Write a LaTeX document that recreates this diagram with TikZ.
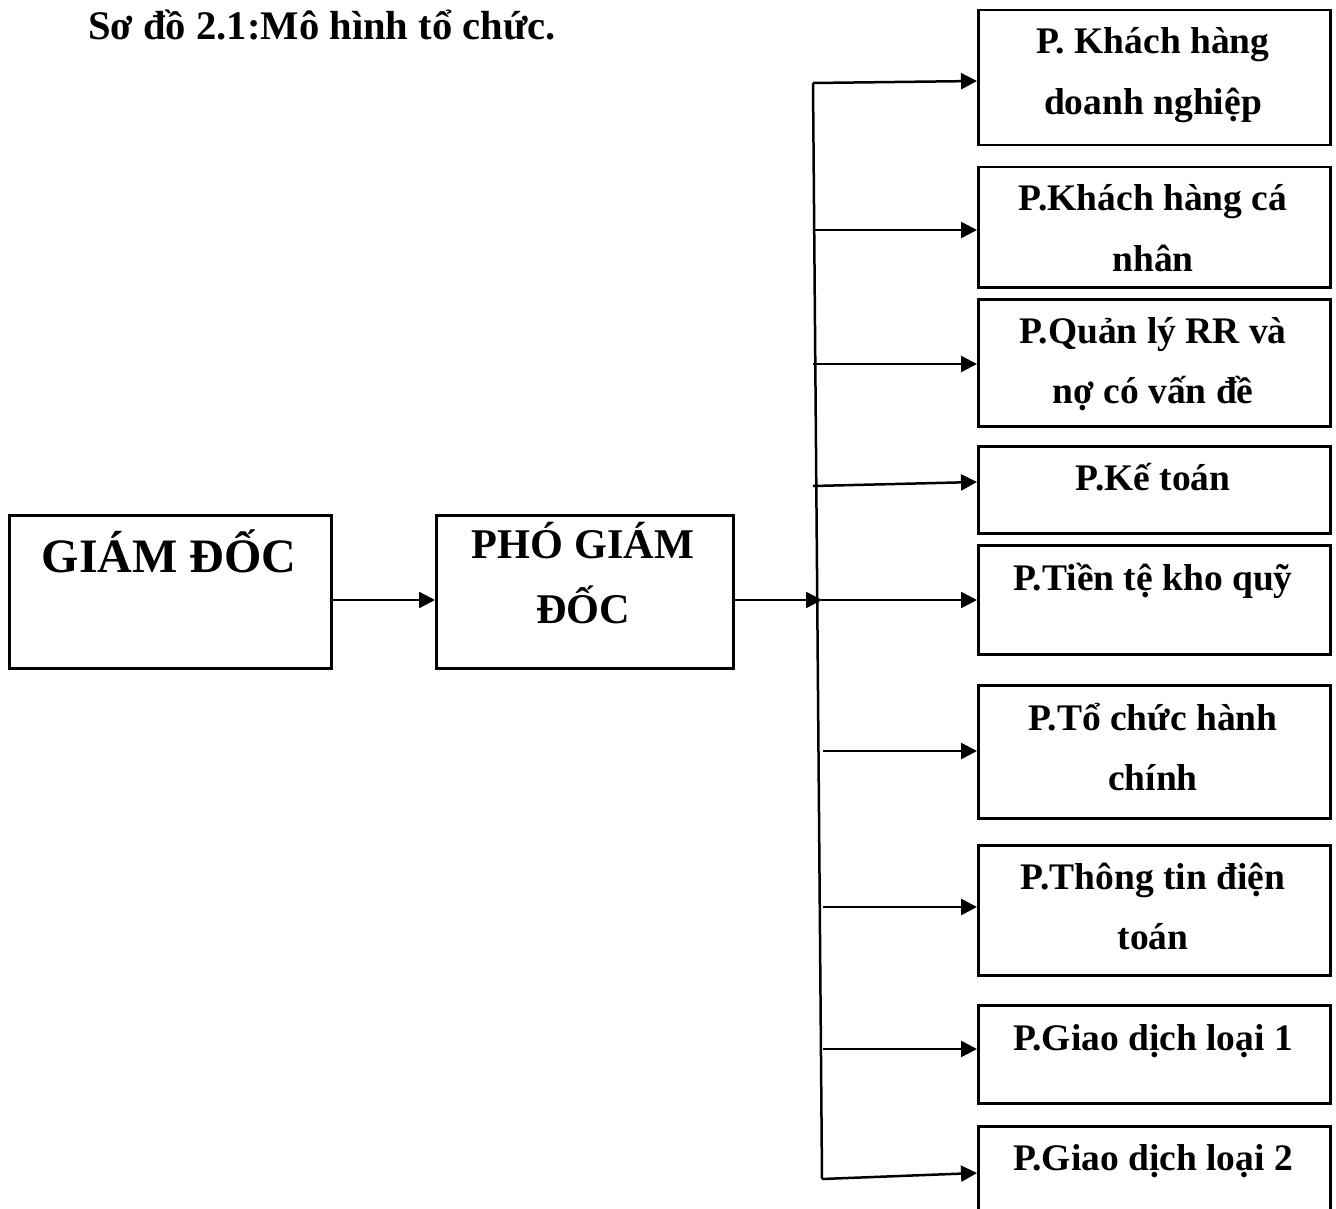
\documentclass[tikz,border=0pt]{standalone}
\usepackage{fontspec}
\setmainfont{Liberation Serif}
\usetikzlibrary{arrows.meta,calc}
\tikzset{
  box/.style={draw=black, line width=2.5pt, rectangle, inner sep=0pt},
  lbl/.style={anchor=base, inner sep=0pt, font=\bfseries\fontsize{37.5}{44}\selectfont},
  biglbl/.style={anchor=base, inner sep=0pt, font=\bfseries\fontsize{42.3}{50}\selectfont},
  conn/.style={line width=2.5pt, -{Triangle[length=16pt,width=16pt]}},
  plain/.style={line width=2.5pt}
}
\begin{document}
\begin{tikzpicture}[x=1pt,y=-1pt]
\useasboundingbox (0,0) rectangle (1336,1209);
\clip (0,0) rectangle (1336,1209);
\fill[white] (0,0) rectangle (1336,1209);

% title
\node[anchor=base west, inner sep=0pt, font=\bfseries\fontsize{40.6}{48}\selectfont] (title) at (88,39.5) {Sơ đồ 2.1:Mô hình tổ chức.};

% left boxes
\node[box, anchor=north west, minimum width=322pt, minimum height=153pt] (gd) at (8,514) {};
\node[lbl, font=\bfseries\fontsize{48}{56}\selectfont] (gdt) at (169,572) {GIÁM ĐỐC};
\node[box, anchor=north west, minimum width=297pt, minimum height=153pt] (pgd) at (435,514) {};
\node[biglbl] (pgdt1) at (583,558) {PHÓ GIÁM};
\node[biglbl] (pgdt2) at (583,623) {ĐỐC};

% right boxes
\node[box, anchor=north west, minimum width=352pt, minimum height=135pt] (b1) at (977,9) {};
\node[lbl] (b1a) at (1153,54) {P. Khách hàng};
\node[lbl] (b1b) at (1153,115) {doanh nghiệp};

\node[box, anchor=north west, minimum width=352pt, minimum height=120pt] (b2) at (977,166) {};
\node[lbl] (b2a) at (1153,211) {P.Khách hàng cá};
\node[lbl] (b2b) at (1153,271) {nhân};

\node[box, anchor=north west, minimum width=352pt, minimum height=127pt] (b3) at (977,298) {};
\node[lbl] (b3a) at (1153,343) {P.Quản lý RR và};
\node[lbl] (b3b) at (1153,403) {nợ có vấn đề};

\node[box, anchor=north west, minimum width=352pt, minimum height=87pt] (b4) at (977,445) {};
\node[lbl] (b4a) at (1153,490) {P.Kế toán};

\node[box, anchor=north west, minimum width=352pt, minimum height=109pt] (b5) at (977,544) {};
\node[lbl] (b5a) at (1153,590) {P.Tiền tệ kho quỹ};

\node[box, anchor=north west, minimum width=352pt, minimum height=133pt] (b6) at (977,684) {};
\node[lbl] (b6a) at (1153,730) {P.Tổ chức hành};
\node[lbl] (b6b) at (1153,790) {chính};

\node[box, anchor=north west, minimum width=352pt, minimum height=130pt] (b7) at (977,844) {};
\node[lbl] (b7a) at (1153,889) {P.Thông tin điện};
\node[lbl] (b7b) at (1153,949) {toán};

\node[box, anchor=north west, minimum width=352pt, minimum height=98pt] (b8) at (977,1004) {};
\node[lbl] (b8a) at (1153,1050) {P.Giao dịch loại 1};

\node[box, anchor=north west, minimum width=352pt, minimum height=140pt] (b9) at (977,1125) {};
\node[lbl] (b9a) at (1153,1170) {P.Giao dịch loại 2};

% bus
\coordinate (vt) at (813,83);
\coordinate (vb) at (822,1179);
\coordinate (vm) at (822,600);
\draw[plain] (vt) -- (vb);

% connectors
\draw[conn] (gd.east |- 0,600) -- (pgd.west |- 0,600);
\draw[conn] (pgd.east |- 0,600) -- (vm);
\draw[conn] (vt) -- (b1.west |- 0,81);

\coordinate (s2) at (813,230);
\coordinate (s3) at (813,364);
\coordinate (s4) at (813,486);
\coordinate (s5) at (821,600);
\coordinate (s6) at (823,751);
\coordinate (s7) at (823,907);
\coordinate (s8) at (823,1049);
\draw[conn] (s2) -- (b2.west |- s2);
\draw[conn] (s3) -- (b3.west |- s3);
\draw[conn] (s4) -- (b4.west |- 0,482);
\draw[conn] (s5) -- (b5.west |- s5);
\draw[conn] (s6) -- (b6.west |- s6);
\draw[conn] (s7) -- (b7.west |- s7);
\draw[conn] (s8) -- (b8.west |- s8);
\draw[conn] (vb) -- (b9.west |- 0,1173);
\end{tikzpicture}
\end{document}
